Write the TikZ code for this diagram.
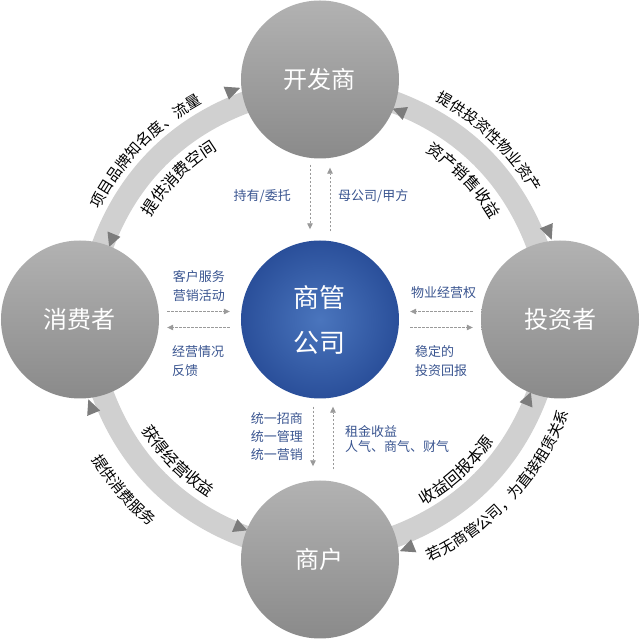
\documentclass[tikz,border=0pt]{standalone}
\usepackage{fontspec}
\setmainfont{Noto Sans CJK SC}
\usetikzlibrary{backgrounds}
\usetikzlibrary{arrows.meta}
\usetikzlibrary{decorations.text}
\definecolor{partytop}{HTML}{B2B2B2}
\definecolor{partybot}{HTML}{8A8A8A}
\definecolor{hubin}{HTML}{4A75BD}
\definecolor{hubout}{HTML}{2A4F9A}
\definecolor{noteblue}{HTML}{3A5590}
\definecolor{bandgray}{HTML}{D0D0D0}
\definecolor{headgray}{HTML}{7C7C7C}
\definecolor{dashgray}{HTML}{9A9A9A}
\newcommand{\outerfont}{\fontsize{15}{15}\selectfont}
\newcommand{\innerfont}{\fontsize{16}{16}\selectfont}

\begin{document}
\begin{tikzpicture}[x=1pt,y=1pt,
  party/.style={circle,minimum size=158pt,inner sep=0pt,top color=partytop,bottom color=partybot,text=white,font=\fontsize{24}{24}\selectfont},
  hub/.style={circle,minimum size=158pt,inner sep=0pt,shading=radial,inner color=hubin,outer color=hubout,text=white,align=center,font=\fontsize{26}{45}\selectfont},
  note/.style={text=noteblue,inner sep=0pt,font=\fontsize{13}{19}\selectfont},
  band/.style={draw=bandgray,line width=22pt,shorten <=-8pt,shorten >=-8pt},
  bandhead/.style={fill=headgray},
  link/.style={draw=dashgray,line width=0.7pt,dash pattern=on 2.5pt off 1.5pt,-{Triangle[length=6pt,width=5.5pt]}}]
\useasboundingbox (-320,-319.5) rectangle (320,319.5);

\node[hub] (hub) at (0,0) {商管\\公司};
\node[party] (dev) at (0,240) {开发商};
\node[party] (cons) at (-240,0) {消费者};
\node[party] (inv) at (240,0) {投资者};
\node[party] (shop) at (0,-240) {商户};

\begin{scope}[on background layer]
\draw[band] (cons.73) to[bend left=25.8,looseness=0.9] (dev.197);
\draw[band] (dev.343) to[bend left=25.8,looseness=0.9] (inv.107);
\draw[band] (inv.253) to[bend left=25.8,looseness=0.9] (shop.17);
\draw[band] (shop.163) to[bend left=25.8,looseness=0.9] (cons.287);
\fill[bandhead] (112.5:238) -- (112.5:252) -- (109:245) -- cycle;
\fill[bandhead] (157.5:216) -- (157.5:230) -- (161:223) -- cycle;
\fill[bandhead] (22.5:238) -- (22.5:252) -- (19:245) -- cycle;
\fill[bandhead] (67.5:216) -- (67.5:230) -- (71:223) -- cycle;
\fill[bandhead] (292.5:238) -- (292.5:252) -- (289:245) -- cycle;
\fill[bandhead] (337.5:216) -- (337.5:230) -- (341:223) -- cycle;
\fill[bandhead] (202.5:238) -- (202.5:252) -- (199:245) -- cycle;
\fill[bandhead] (247.5:216) -- (247.5:230) -- (251:223) -- cycle;
\end{scope}

\path[decorate,decoration={text along path,text align=center,text={|\outerfont|项目品牌知名度、流量}}] (176:246) arc[start angle=176,end angle=96,radius=246pt];
\path[decorate,decoration={text along path,text align=center,text={|\innerfont|提供消费空间}}] (175:198) arc[start angle=175,end angle=95,radius=198pt];
\path[decorate,decoration={text along path,text align=center,text={|\outerfont|提供投资性物业资产}}] (86.5:247) arc[start angle=86.5,end angle=6.5,radius=247pt];
\path[decorate,decoration={text along path,text align=center,text={|\innerfont|资产销售收益}}] (84:198) arc[start angle=84,end angle=4,radius=198pt];
\path[decorate,decoration={text along path,text align=center,text={|\outerfont|若无商管公司，为直接租赁关系}}] (-83:266) arc[start angle=-83,end angle=-3,radius=266pt];
\path[decorate,decoration={text along path,text align=center,text={|\innerfont|收益回报本源}}] (-88:213) arc[start angle=-88,end angle=-8,radius=213pt];
\path[decorate,decoration={text along path,text align=center,text={|\outerfont|提供消费服务}}] (181:268) arc[start angle=181,end angle=261,radius=268pt];
\path[decorate,decoration={text along path,text align=center,text={|\innerfont|获得经营收益}}] (185:210) arc[start angle=185,end angle=265,radius=210pt];

\draw[link,shorten <=6pt,shorten >=11pt] ([xshift=-10pt]dev.south) -- ([xshift=-10pt]hub.north);
\draw[link,shorten <=9pt,shorten >=9pt] ([xshift=10pt]hub.north) -- ([xshift=10pt]dev.south);
\draw[link,shorten <=8pt,shorten >=11pt] ([yshift=8pt]cons.east) -- ([yshift=8pt]hub.west);
\draw[link,shorten <=11pt,shorten >=8pt] ([yshift=-8pt]hub.west) -- ([yshift=-8pt]cons.east);
\draw[link,shorten <=8pt,shorten >=11pt] ([yshift=8pt]inv.west) -- ([yshift=8pt]hub.east);
\draw[link,shorten <=11pt,shorten >=8pt] ([yshift=-8pt]hub.east) -- ([yshift=-8pt]inv.west);
\draw[link,shorten <=8pt,shorten >=14pt] ([xshift=-7pt]hub.south) -- ([xshift=-7pt]shop.north);
\draw[link,shorten <=11pt,shorten >=8pt] ([xshift=13pt]shop.north) -- ([xshift=13pt]hub.south);

\node[note,anchor=east] (own) at (-29,123) {持有/委托};
\node[note,anchor=west] (parent) at (18,123) {母公司/甲方};
\node[note,align=center] (service) at (-121,33) {客户服务\\营销活动};
\node[note,anchor=west,align=left] (feedback) at (-148,-41.5) {经营情况\\反馈};
\node[note,anchor=west] (right) at (91,27) {物业经营权};
\node[note,anchor=west,align=left] (return) at (95,-41.5) {稳定的\\投资回报};
\node[note,anchor=east,align=left,font=\fontsize{13}{18}\selectfont] (unify) at (-17,-117) {统一招商\\统一管理\\统一营销};
\node[note,anchor=west,align=left,font=\fontsize{13}{15}\selectfont] (rent) at (25,-119.5) {租金收益\\人气、商气、财气};
\end{tikzpicture}
\end{document}
